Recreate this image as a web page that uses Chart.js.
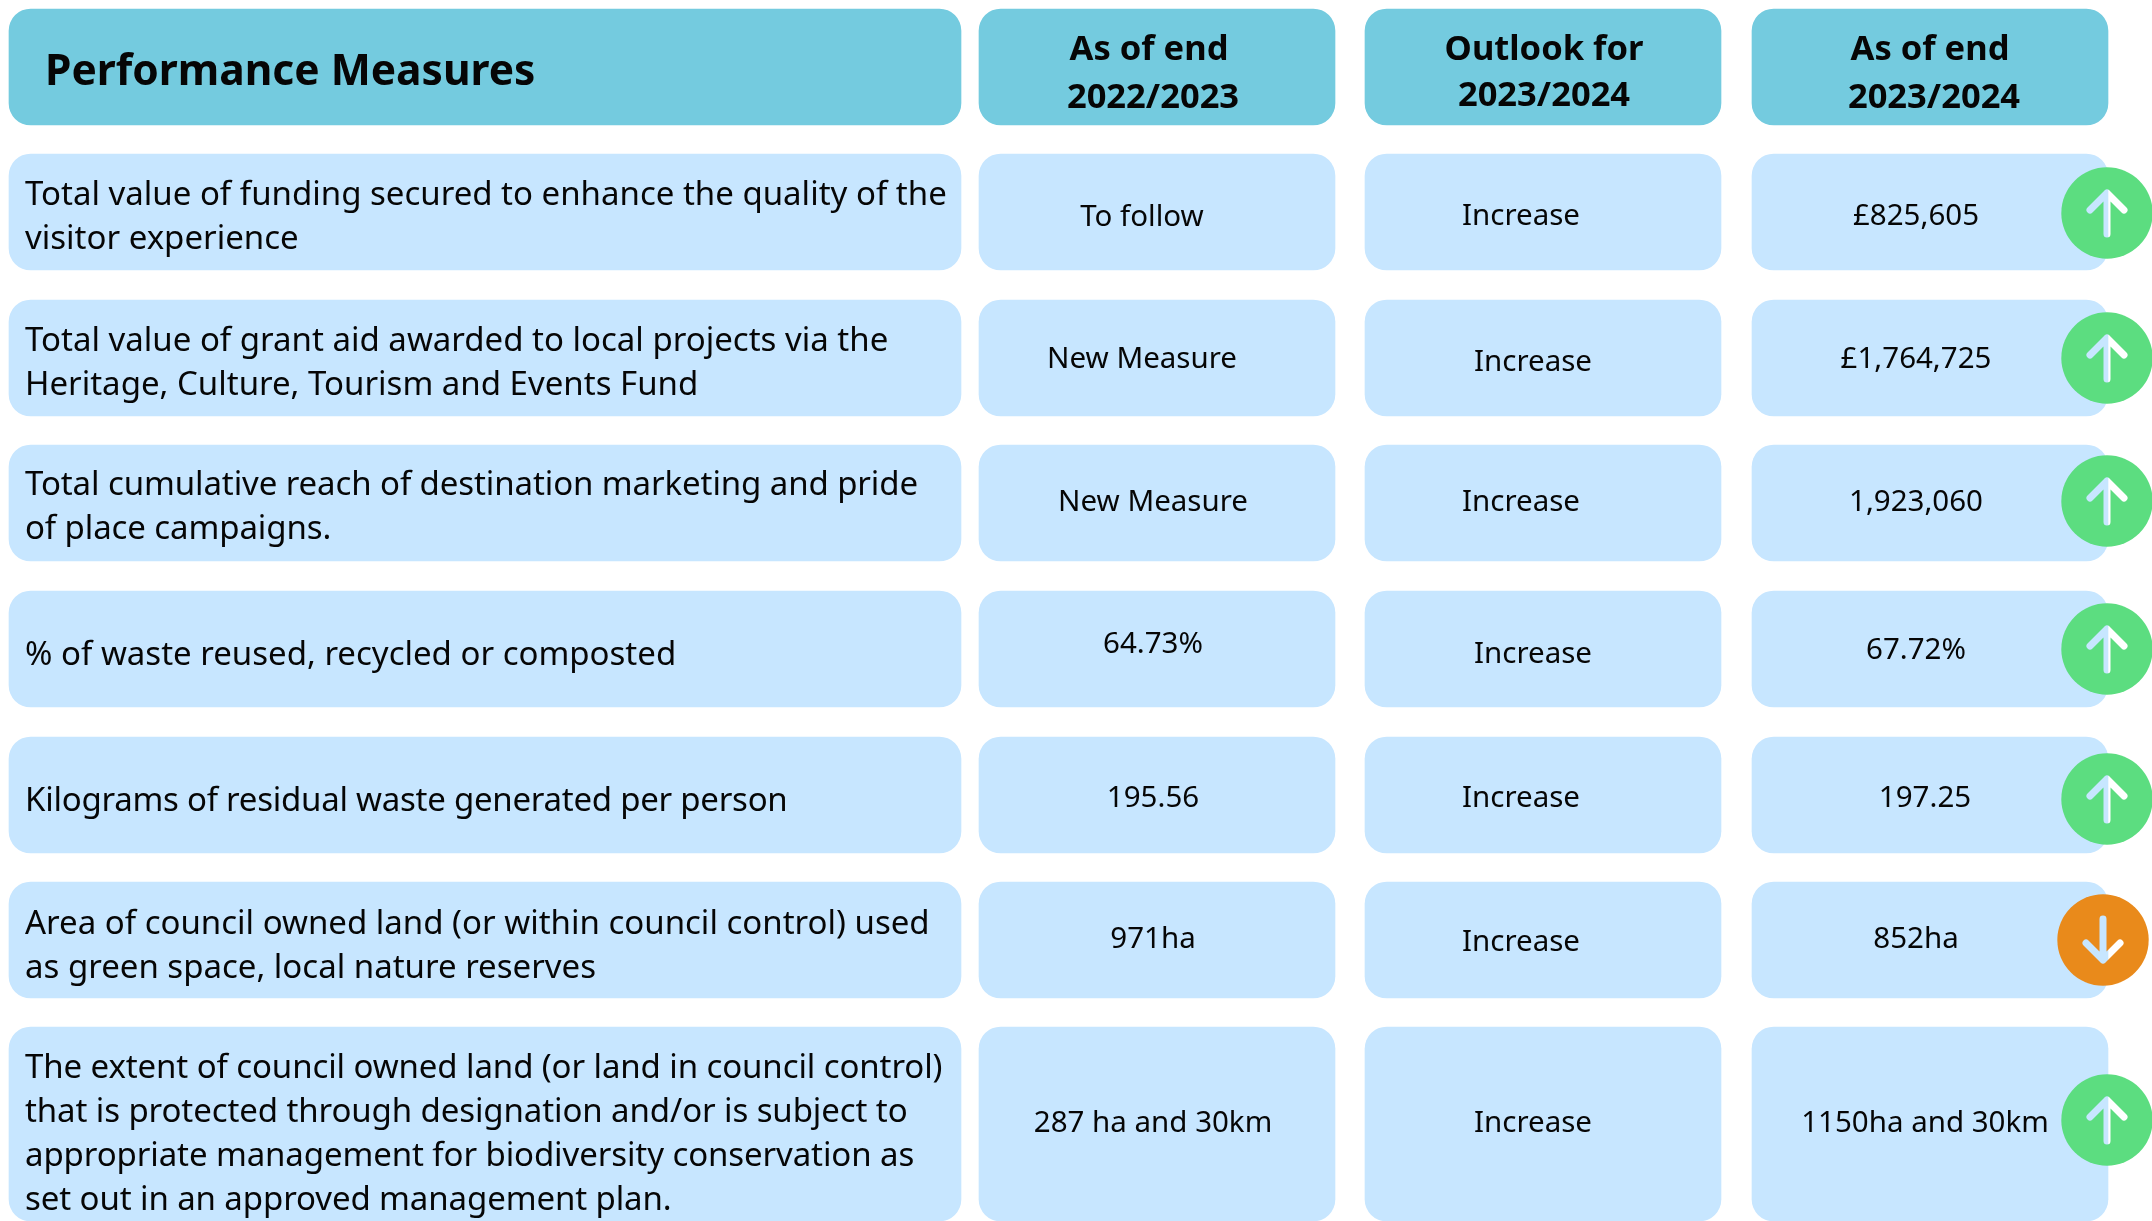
<!DOCTYPE html>
<html>
<head>
<meta charset="utf-8">
<title>Performance Measures</title>
<style>
    html, body { margin: 0; padding: 0; background: #ffffff; }
    canvas { display: block; }
</style>
<script src="https://cdn.jsdelivr.net/npm/chart.js@4"></script>
</head>
<body>
<canvas id="grafico" width="2152" height="1221"></canvas>
<script>
// table content
const titulo = 'Performance Measures';
const cabecalhos = [['As of end', '2022/2023'], ['Outlook for', '2023/2024'], ['As of end', '2023/2024']];
const medidas = [
    ['Total value of funding secured to enhance the quality of the', 'visitor experience'],
    ['Total value of grant aid awarded to local projects via the', 'Heritage, Culture, Tourism and Events Fund'],
    ['Total cumulative reach of destination marketing and pride', 'of place campaigns.'],
    ['% of waste reused, recycled or composted'],
    ['Kilograms of residual waste generated per person'],
    ['Area of council owned land (or within council control) used', 'as green space, local nature reserves'],
    ['The extent of council owned land (or land in council control)', 'that is protected through designation and/or is subject to', 'appropriate management for biodiversity conservation as', 'set out in an approved management plan.']
];
const valores2223 = ['To follow', 'New Measure', 'New Measure', '64.73%', '195.56', '971ha', '287 ha and 30km'];
const previsao2324 = ['Increase', 'Increase', 'Increase', 'Increase', 'Increase', 'Increase', 'Increase'];
const valores2324 = ['£825,605', '£1,764,725', '1,923,060', '67.72%', '197.25', '852ha', '1150ha and 30km'];
const tendencias = ['up', 'up', 'up', 'up', 'up', 'down', 'up'];

// layout, in axis units (the axes run 0-2152 and 0-1221)
const colunas = [[9, 961], [979, 1335], [1365, 1721], [1752, 2108]];
const centroCabecalho = 67;
const centrosLinhas = [212, 358, 503, 649, 795, 940, 1124];
const alturasLinhas = [116, 116, 116, 116, 116, 116, 194];
const textoX = [
    [1142, 1142, 1153, 1153, 1153, 1153, 1153],
    [1521, 1533, 1521, 1533, 1521, 1521, 1533],
    [1916, 1916, 1916, 1916, 1925, 1916, 1925]
];
const textoY = [
    [218, 360, 503, 645, 799, 940, 1124],
    [217, 363, 503, 655, 799, 943, 1124],
    [217, 360, 503, 651, 799, 940, 1124]
];
const cabecalhoX = [[1149, 1153], [1544, 1544], [1930, 1934]];
const cabecalhoY = [[50, 98], [50, 96], [50, 98]];
const medidaX = 25;
const medidaY = [196, 342, 486, 656, 802, 925, 1069];
const medidaEspaco = [0, 0, -0.1, 0, -0.25, 0, -0.1];
const entreLinhas = 44;
const selosX = [2107, 2107, 2107, 2107, 2107, 2103, 2107];
const selosY = [213, 358, 501, 649, 799, 940, 1120];

const corCabecalho = '#74cbdf';
const corCelula = '#c7e6ff';
const corTexto = '#060606';
const fonte = '"Noto Sans"';

// green or orange disc with the arrow cut out, the cell shows through it
function criarSelo(cor) {
    const c = document.createElement('canvas');
    c.width = 92;
    c.height = 92;
    const ctx = c.getContext('2d');
    ctx.fillStyle = cor;
    ctx.beginPath();
    ctx.arc(46, 46, 45.7, 0, Math.PI * 2);
    ctx.fill();
    ctx.globalCompositeOperation = 'destination-out';
    ctx.lineWidth = 7;
    ctx.lineCap = 'round';
    ctx.lineJoin = 'round';
    ctx.beginPath();
    ctx.moveTo(46, 67);
    ctx.lineTo(46, 26);
    ctx.moveTo(29, 43);
    ctx.lineTo(46, 26);
    ctx.lineTo(63, 43);
    ctx.stroke();
    return c;
}
const seloSobe = criarSelo('#5cdd80');
const seloDesce = criarSelo('#e98a1b');

// one floating bar per cell
const barrasCabecalho = colunas.map(c => ({ x: c, y: centroCabecalho }));
const barrasLinhas = [];
const barrasUltima = [];
centrosLinhas.forEach((y, i) => {
    colunas.forEach(c => {
        if (i === centrosLinhas.length - 1) barrasUltima.push({ x: c, y });
        else barrasLinhas.push({ x: c, y });
    });
});

function dsBarras(dados, cor, altura) {
    return {
        type: 'bar',
        indexAxis: 'y',
        data: dados,
        backgroundColor: cor,
        barThickness: altura,
        grouped: false,
        borderRadius: 22,
        borderSkipped: false,
        order: 2
    };
}

// texts are placed through the chart's scales
const pluginTextos = {
    id: 'textos',
    afterDatasetsDraw(chart) {
        const { ctx, scales } = chart;
        const px = v => scales.x.getPixelForValue(v);
        const py = v => scales.y.getPixelForValue(v);
        ctx.save();
        ctx.fillStyle = corTexto;
        ctx.textBaseline = 'middle';

        ctx.textAlign = 'left';
        ctx.font = `700 42.5px ${fonte}`;
        ctx.fillText(titulo, px(45), py(73));

        ctx.textAlign = 'center';
        ctx.font = `700 34.5px ${fonte}`;
        cabecalhos.forEach((linhas, c) => {
            linhas.forEach((t, l) => ctx.fillText(t, px(cabecalhoX[c][l]), py(cabecalhoY[c][l])));
        });

        ctx.font = `400 29.5px ${fonte}`;
        [valores2223, previsao2324, valores2324].forEach((lista, c) => {
            lista.forEach((t, i) => ctx.fillText(t, px(textoX[c][i]), py(textoY[c][i])));
        });

        ctx.textAlign = 'left';
        ctx.font = `400 33px ${fonte}`;
        medidas.forEach((linhas, i) => {
            ctx.letterSpacing = `${medidaEspaco[i]}px`;
            linhas.forEach((t, l) => ctx.fillText(t, px(medidaX), py(medidaY[i] + l * entreLinhas)));
        });
        ctx.restore();
    }
};

new Chart(document.getElementById('grafico'), {
    type: 'bar',
    data: {
        datasets: [
            dsBarras(barrasCabecalho, corCabecalho, 116),
            dsBarras(barrasLinhas, corCelula, alturasLinhas[0]),
            dsBarras(barrasUltima, corCelula, alturasLinhas[6]),
            {
                type: 'scatter',
                data: selosX.map((x, i) => ({ x, y: selosY[i] })),
                showLine: false,
                pointStyle: tendencias.map(t => (t === 'up' ? seloSobe : seloDesce)),
                pointRotation: tendencias.map(t => (t === 'up' ? 0 : 180)),
                pointRadius: 46,
                clip: false,
                order: 1
            }
        ]
    },
    options: {
        responsive: false,
        animation: false,
        layout: { padding: 0, autoPadding: false },
        plugins: { legend: { display: false }, tooltip: { enabled: false }, title: { display: false } },
        scales: {
            x: { type: 'linear', min: 0, max: 2152, offset: false, display: false },
            y: { type: 'linear', min: 0, max: 1221, reverse: true, offset: false, display: false }
        }
    },
    plugins: [pluginTextos]
});
</script>
</body>
</html>
